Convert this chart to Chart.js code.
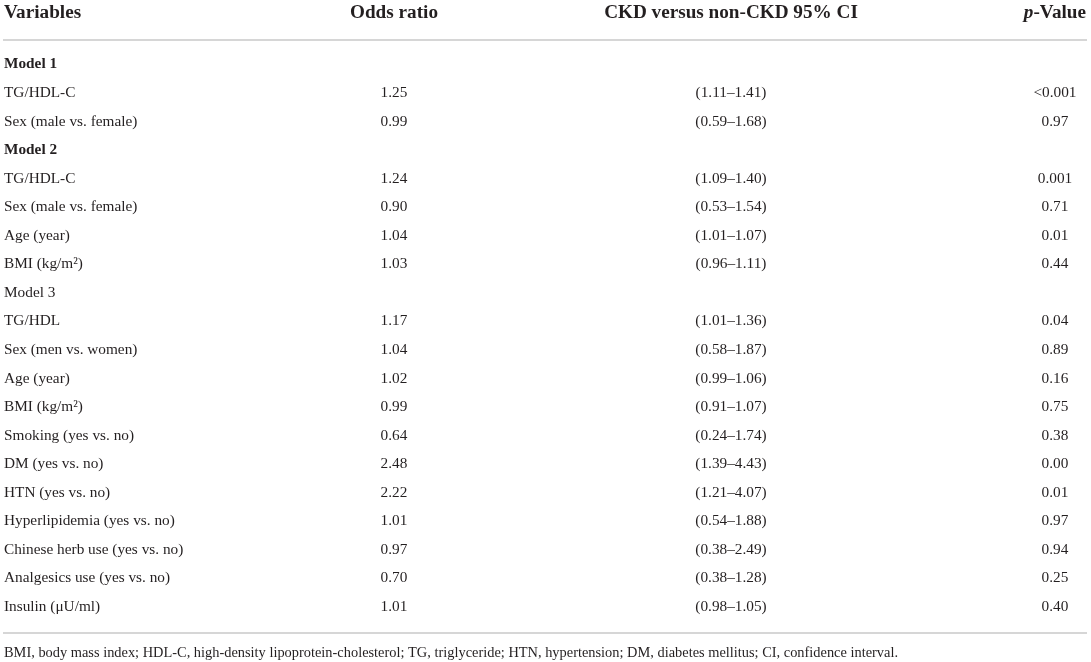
<!DOCTYPE html>
<html>
<head>
<meta charset="utf-8">
<script src="https://cdn.jsdelivr.net/npm/chart.js@4.4.0/dist/chart.umd.min.js"></script>
<style>
  html, body { margin: 0; padding: 0; background: #fff; }
  #wrap { width: 1091px; height: 662px; position: relative; }
</style>
</head>
<body>
<div id="wrap"><canvas id="table"></canvas></div>
<script>
// Table content
const headers = ['Variables', 'Odds ratio', 'CKD versus non-CKD 95% CI', 'p-Value'];
const variables = [
    'Model 1', 'TG/HDL-C', 'Sex (male vs. female)',
    'Model 2', 'TG/HDL-C', 'Sex (male vs. female)', 'Age (year)', 'BMI (kg/m²)',
    'Model 3', 'TG/HDL', 'Sex (men vs. women)', 'Age (year)', 'BMI (kg/m²)',
    'Smoking (yes vs. no)', 'DM (yes vs. no)', 'HTN (yes vs. no)',
    'Hyperlipidemia (yes vs. no)', 'Chinese herb use (yes vs. no)',
    'Analgesics use (yes vs. no)', 'Insulin (μU/ml)'
];
const oddsRatios = [
    null, 1.25, 0.99,
    null, 1.24, 0.90, 1.04, 1.03,
    null, 1.17, 1.04, 1.02, 0.99, 0.64, 2.48, 2.22, 1.01, 0.97, 0.70, 1.01
];
const ciLower = [
    null, 1.11, 0.59,
    null, 1.09, 0.53, 1.01, 0.96,
    null, 1.01, 0.58, 0.99, 0.91, 0.24, 1.39, 1.21, 0.54, 0.38, 0.38, 0.98
];
const ciUpper = [
    null, 1.41, 1.68,
    null, 1.40, 1.54, 1.07, 1.11,
    null, 1.36, 1.87, 1.06, 1.07, 1.74, 4.43, 4.07, 1.88, 2.49, 1.28, 1.05
];
const pValues = [
    null, '<0.001', '0.97',
    null, '0.001', '0.71', '0.01', '0.44',
    null, '0.04', '0.89', '0.16', '0.75', '0.38', '0.00', '0.01', '0.97', '0.94', '0.25', '0.40'
];
const boldRows = ['Model 1', 'Model 2'];
const footnote = 'BMI, body mass index; HDL-C, high-density lipoprotein-cholesterol; TG, triglyceride; HTN, hypertension; DM, diabetes mellitus; CI, confidence interval.';

// Layout, in pixels
const W = 1091, H = 662;
const ROW0 = 64.5, ROW_H = 28.55;
const colX = [4, 394, 731, 1055];
const FONT = '"Liberation Serif", "DejaVu Serif", serif';
const TEXT_COLOR = '#231f20';
const RULE_COLOR = '#c8c8c8';
const BODY_SIZE = 15.3, HEAD_SIZE = 19.2, NOTE_SIZE = 14.4;

// pixel -> row units for the y scale
const rowOf = px => (px - ROW0) / ROW_H;

function cellColumn(values, x, align, fmt) {
    const data = [], texts = [];
    values.forEach((v, i) => {
        if (v === null) return;
        data.push({ x: x, y: i });
        texts.push(fmt ? fmt(v, i) : v);
    });
    return { type: 'scatter', data, texts, align, size: BODY_SIZE, pointRadius: 0 };
}

const datasets = [
    // rules
    { type: 'line', data: [{ x: 3, y: rowOf(40) }, { x: 1087, y: rowOf(40) }],
      borderColor: RULE_COLOR, borderWidth: 1.5, pointRadius: 0 },
    { type: 'line', data: [{ x: 3, y: rowOf(633) }, { x: 1087, y: rowOf(633) }],
      borderColor: RULE_COLOR, borderWidth: 1.5, pointRadius: 0 },
    // header row
    { type: 'scatter', pointRadius: 0, size: HEAD_SIZE, weight: 'bold',
      data: [{ x: colX[0], y: rowOf(13) }], texts: [headers[0]], align: 'left' },
    { type: 'scatter', pointRadius: 0, size: HEAD_SIZE, weight: 'bold',
      data: [{ x: colX[1], y: rowOf(13) }, { x: colX[2], y: rowOf(13) }],
      texts: [headers[1], headers[2]], align: 'center' },
    { type: 'scatter', pointRadius: 0, size: HEAD_SIZE, weight: 'bold',
      data: [{ x: 1086, y: rowOf(13) }], align: 'right',
      runs: [[['p', 'italic bold'], [headers[3].slice(1), 'bold']]] },
    // body
    Object.assign(cellColumn(variables, colX[0], 'left'),
        { boldFlags: variables.map(v => boldRows.includes(v)) }),
    cellColumn(oddsRatios, colX[1], 'center', v => v.toFixed(2)),
    cellColumn(ciLower, colX[2], 'center', (v, i) => '(' + v.toFixed(2) + '–' + ciUpper[i].toFixed(2) + ')'),
    cellColumn(pValues, colX[3], 'center'),
    // footnote
    { type: 'scatter', pointRadius: 0, size: NOTE_SIZE, data: [{ x: 4, y: rowOf(653) }],
      texts: [footnote], align: 'left' }
];

// Draws the text of each cell at the point the scales give it
const cellText = {
    id: 'cellText',
    afterDatasetsDraw(chart) {
        const ctx = chart.ctx;
        chart.data.datasets.forEach((ds, di) => {
            if (!ds.texts && !ds.runs) return;
            const meta = chart.getDatasetMeta(di);
            meta.data.forEach((pt, i) => {
                ctx.save();
                ctx.fillStyle = TEXT_COLOR;
                ctx.textBaseline = 'middle';
                if (ds.runs) {
                    const runs = ds.runs[i];
                    let total = 0;
                    runs.forEach(r => { ctx.font = r[1] + ' ' + ds.size + 'px ' + FONT; total += ctx.measureText(r[0]).width; });
                    let x = ds.align === 'right' ? pt.x - total : ds.align === 'center' ? pt.x - total / 2 : pt.x;
                    ctx.textAlign = 'left';
                    runs.forEach(r => {
                        ctx.font = r[1] + ' ' + ds.size + 'px ' + FONT;
                        ctx.fillText(r[0], x, pt.y);
                        x += ctx.measureText(r[0]).width;
                    });
                } else {
                    const bold = ds.weight === 'bold' || (ds.boldFlags && ds.boldFlags[ds.data[i].y]);
                    ctx.font = (bold ? 'bold ' : '') + ds.size + 'px ' + FONT;
                    ctx.textAlign = ds.align;
                    ctx.fillText(ds.texts[i], pt.x, pt.y);
                }
                ctx.restore();
            });
        });
    }
};

new Chart(document.getElementById('table'), {
    type: 'scatter',
    data: { datasets },
    options: {
        responsive: true,
        maintainAspectRatio: false,
        animation: false,
        events: [],
        layout: { padding: 0 },
        scales: {
            x: { type: 'linear', display: false, min: 0, max: W },
            y: { type: 'linear', display: false, reverse: true, min: rowOf(0), max: rowOf(H) }
        },
        plugins: { legend: { display: false }, tooltip: { enabled: false } }
    },
    plugins: [cellText]
});
</script>
</body>
</html>
